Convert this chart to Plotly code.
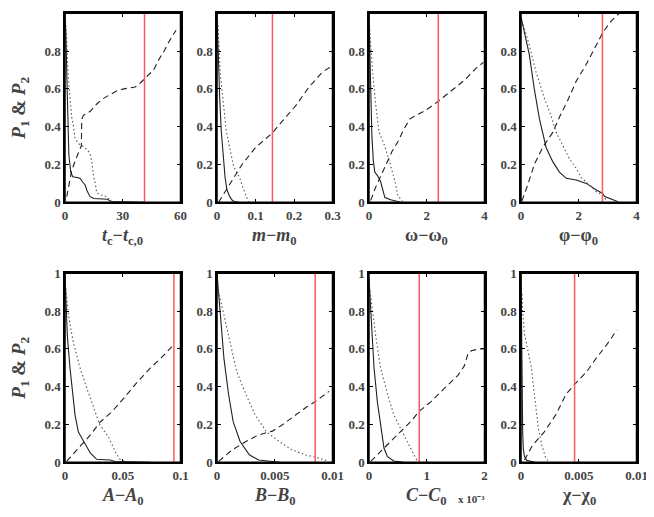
import plotly.graph_objects as go

# ---------------- data ----------------
tc_solid_x = [0, 0.5, 1, 1.5, 2, 3, 4, 7, 8, 9, 10.5, 11.5, 13, 15, 22, 24, 41]
tc_solid_y = [1, 0.88, 0.65, 0.4, 0.25, 0.16, 0.135, 0.13, 0.125, 0.11, 0.09, 0.06, 0.03, 0.02, 0.016, 0.004, 0.0]
tc_dot_x = [0, 0.9, 1.7, 2.6, 3.5, 4.3, 5.2, 7, 9, 11.3, 13, 14, 14.8, 15.7, 16.5, 18.4, 21.7, 23.5, 25]
tc_dot_y = [1, 0.86, 0.66, 0.55, 0.45, 0.41, 0.34, 0.31, 0.3, 0.28, 0.26, 0.21, 0.14, 0.1, 0.05, 0.04, 0.03, 0.01, 0.0]
tc_dash_x = [0.9, 3.5, 6.5, 8.5, 8.7, 9.6, 13, 16.5, 20, 23.5, 27, 30.5, 36.5, 39, 41, 44, 46, 49, 51.5, 54, 57.7]
tc_dash_y = [0.03, 0.17, 0.25, 0.3, 0.44, 0.46, 0.48, 0.52, 0.55, 0.57, 0.59, 0.6, 0.61, 0.63, 0.65, 0.68, 0.7, 0.76, 0.8, 0.85, 0.91]
tc_red = 41.3

m_solid_x = [0, 0.002, 0.004, 0.007, 0.011, 0.017, 0.021, 0.026, 0.033, 0.039, 0.045, 0.057]
m_solid_y = [1, 0.85, 0.7, 0.55, 0.38, 0.22, 0.13, 0.065, 0.03, 0.012, 0.004, 0]
m_dot_x = [0, 0.003, 0.009, 0.017, 0.024, 0.03, 0.042, 0.048, 0.059, 0.065, 0.073, 0.082]
m_dot_y = [1, 0.92, 0.67, 0.5, 0.38, 0.32, 0.2, 0.17, 0.13, 0.09, 0.05, 0.0]
m_dash_x = [0.004, 0.026, 0.065, 0.1, 0.143, 0.174, 0.204, 0.239, 0.274, 0.298]
m_dash_y = [0.0, 0.074, 0.2, 0.29, 0.365, 0.44, 0.51, 0.61, 0.69, 0.72]
m_red = 0.144

w_solid_x = [0, 0.03, 0.06, 0.1, 0.15, 0.2, 0.3, 0.4, 0.5, 0.55, 0.75, 0.95, 1.1]
w_solid_y = [1, 0.85, 0.6, 0.35, 0.22, 0.16, 0.14, 0.11, 0.05, 0.025, 0.013, 0.004, 0]
w_dot_x = [0, 0.03, 0.12, 0.23, 0.35, 0.54, 0.7, 0.8, 0.9, 1.0, 1.16]
w_dot_y = [1, 0.9, 0.7, 0.52, 0.37, 0.3, 0.22, 0.17, 0.11, 0.035, 0.005]
w_dash_x = [0.06, 0.23, 0.5, 0.8, 1.0, 1.22, 1.41, 1.57, 1.95, 2.4, 2.85, 3.3, 3.71, 3.96]
w_dash_y = [0.01, 0.08, 0.17, 0.27, 0.32, 0.39, 0.44, 0.455, 0.485, 0.535, 0.59, 0.645, 0.71, 0.74]
w_red = 2.4

p_solid_x = [0, 0.29, 0.46, 0.64, 0.87, 1.1, 1.33, 1.57, 1.91, 2.26, 2.61, 2.82, 2.9, 3.19, 3.36]
p_solid_y = [0.98, 0.78, 0.6, 0.44, 0.29, 0.215, 0.16, 0.127, 0.118, 0.1, 0.065, 0.048, 0.03, 0.012, 0.003]
p_dot_x = [0, 0.29, 0.52, 0.81, 0.99, 1.22, 1.45, 1.68, 1.91, 2.09, 2.38, 2.61, 2.82, 2.96]
p_dot_y = [0.98, 0.83, 0.69, 0.55, 0.48, 0.37, 0.3, 0.23, 0.18, 0.13, 0.09, 0.056, 0.04, 0.01]
p_dash_x = [0.03, 0.23, 0.46, 0.75, 1.1, 1.33, 1.62, 1.91, 2.26, 2.61, 2.84, 3.13, 3.4]
p_dash_y = [0.007, 0.09, 0.2, 0.29, 0.37, 0.45, 0.54, 0.64, 0.73, 0.83, 0.9, 0.96, 1.0]
p_red = 2.82

a_solid_x = [0, 0.001, 0.002, 0.0043, 0.0067, 0.0087, 0.0116, 0.016, 0.022, 0.0275, 0.039, 0.0435, 0.074]
a_solid_y = [1, 0.85, 0.67, 0.5, 0.36, 0.25, 0.16, 0.11, 0.048, 0.016, 0.012, 0.004, 0]
a_dot_x = [0, 0.003, 0.007, 0.013, 0.019, 0.025, 0.03, 0.038, 0.0435, 0.048, 0.054]
a_dot_y = [0.96, 0.78, 0.64, 0.5, 0.39, 0.29, 0.2, 0.13, 0.056, 0.012, 0.002]
a_dash_x = [0.0014, 0.01, 0.022, 0.03, 0.041, 0.051, 0.062, 0.074, 0.083, 0.093]
a_dash_y = [0.005, 0.065, 0.145, 0.21, 0.27, 0.34, 0.42, 0.5, 0.55, 0.615]
a_red = 0.0943

b_solid_x = [0, 0.0003, 0.0006, 0.001, 0.0014, 0.002, 0.0028, 0.0036, 0.0048, 0.0054]
b_solid_y = [1, 0.76, 0.55, 0.36, 0.215, 0.11, 0.04, 0.012, 0.003, 0]
b_dot_x = [0, 0.00014, 0.0006, 0.0012, 0.0017, 0.0025, 0.0033, 0.0043, 0.0054, 0.0065, 0.0077, 0.0086, 0.0096]
b_dot_y = [0.97, 0.9, 0.78, 0.62, 0.48, 0.36, 0.25, 0.16, 0.11, 0.065, 0.039, 0.026, 0.007]
b_dash_x = [0.00014, 0.0013, 0.0025, 0.0036, 0.0048, 0.0057, 0.0068, 0.0077, 0.0086, 0.0097]
b_dash_y = [0.005, 0.065, 0.11, 0.145, 0.165, 0.2, 0.25, 0.29, 0.325, 0.375]
b_red = 0.0085

# C values in units of 1e-3
c_solid_x = [0, 0.03, 0.087, 0.145, 0.2, 0.26, 0.32, 0.43, 0.6]
c_solid_y = [0.97, 0.78, 0.5, 0.32, 0.2, 0.074, 0.03, 0.007, 0]
c_dot_x = [0, 0.058, 0.116, 0.2, 0.32, 0.43, 0.55, 0.67, 0.78, 0.84]
c_dot_y = [0.95, 0.81, 0.67, 0.5, 0.36, 0.25, 0.18, 0.11, 0.04, 0.003]
c_dash_x = [0.03, 0.2, 0.43, 0.72, 0.87, 1.07, 1.3, 1.54, 1.65, 1.71, 1.77, 1.91, 2.0]
c_dash_y = [0.005, 0.056, 0.127, 0.215, 0.27, 0.32, 0.39, 0.46, 0.51, 0.57, 0.59, 0.6, 0.6]
c_red = 0.87

x_solid_x = [0, 0.00003, 0.00006, 0.0001, 0.00015, 0.0002, 0.0003, 0.0005, 0.0012]
x_solid_y = [1, 0.7, 0.45, 0.3, 0.15, 0.07, 0.03, 0.01, 0]
x_dot_x = [0.0001, 0.00014, 0.0003, 0.0006, 0.0009, 0.0011, 0.0013, 0.0015, 0.0018, 0.0021, 0.0023]
x_dot_y = [0.89, 0.8, 0.68, 0.58, 0.5, 0.39, 0.27, 0.18, 0.09, 0.03, 0.01]
x_dash_x = [0.0003, 0.001, 0.002, 0.003, 0.0039, 0.0046, 0.0057, 0.0065, 0.0074, 0.0083]
x_dash_y = [0.012, 0.09, 0.16, 0.25, 0.36, 0.41, 0.48, 0.55, 0.62, 0.7]
x_red = 0.00464

x_ranges = [60, 0.3, 4, 4, 0.1, 0.01, 2, 0.01]
x_tickvals = [[0, 30, 60], [0, 0.1, 0.2, 0.3], [0, 2, 4], [0, 2, 4],
              [0, 0.05, 0.1], [0, 0.005, 0.01], [0, 1, 2], [0, 0.005, 0.01]]
x_ticktext = [["0", "30", "60"], ["0", "0.1", "0.2", "0.3"], ["0", "2", "4"], ["0", "2", "4"],
              ["0", "0.05", "0.1"], ["0", "0.005", "0.01"], ["0", "1", "2"], ["0", "0.005", "0.01"]]
y_tickvals = [0, 0.2, 0.4, 0.6, 0.8, 1]
y_ticktext = ["0", "0.2", "0.4", "0.6", "0.8", "1"]
x_titles = [
    "<b><i>t</i><sub>c</sub>−<i>t</i><sub>c,0</sub></b>",
    "<b><i>m</i>−<i>m</i><sub>0</sub></b>",
    "<b>ω−ω<sub>0</sub></b>",
    "<b>φ−φ<sub>0</sub></b>",
    "<b><i>A</i>−<i>A</i><sub>0</sub></b>",
    "<b><i>B</i>−<i>B</i><sub>0</sub></b>",
    "<b><i>C</i>−<i>C</i><sub>0</sub></b>",
    "<b>χ−χ<sub>0</sub></b>",
]
y_title = "<b><i>P</i><sub>1</sub> & <i>P</i><sub>2</sub></b>"
c_exponent = "<b>x 10⁻³</b>"

panels = [
    (tc_solid_x, tc_solid_y, tc_dot_x, tc_dot_y, tc_dash_x, tc_dash_y, tc_red),
    (m_solid_x, m_solid_y, m_dot_x, m_dot_y, m_dash_x, m_dash_y, m_red),
    (w_solid_x, w_solid_y, w_dot_x, w_dot_y, w_dash_x, w_dash_y, w_red),
    (p_solid_x, p_solid_y, p_dot_x, p_dot_y, p_dash_x, p_dash_y, p_red),
    (a_solid_x, a_solid_y, a_dot_x, a_dot_y, a_dash_x, a_dash_y, a_red),
    (b_solid_x, b_solid_y, b_dot_x, b_dot_y, b_dash_x, b_dash_y, b_red),
    (c_solid_x, c_solid_y, c_dot_x, c_dot_y, c_dash_x, c_dash_y, c_red),
    (x_solid_x, x_solid_y, x_dot_x, x_dot_y, x_dash_x, x_dash_y, x_red),
]

# ---------------- layout geometry ----------------
# the page body has an 8px margin, so the figure is shifted by OFF
OFF = 8
W, H = 654 - OFF, 517 - OFF
col_left = [65 - OFF, 217 - OFF, 369 - OFF, 521 - OFF]
col_w = 115.5
row_top = [13.3 - OFF, 273.3 - OFF]
row_h = 189

FONT = "Times New Roman"
fig = go.Figure()
layout = dict(template="none", width=W, height=H, autosize=False,
              margin=dict(l=0, r=0, t=0, b=0, pad=0, autoexpand=False),
              showlegend=False)
annotations = []
shapes = []


def bold(lst):
    return ["<b>" + s + "</b>" for s in lst]


for i, (sx, sy, dx, dy, ex, ey, red) in enumerate(panels):
    r, c = divmod(i, 4)
    n = i + 1
    xa = "xaxis" if n == 1 else f"xaxis{n}"
    ya = "yaxis" if n == 1 else f"yaxis{n}"
    xr = "x" if n == 1 else f"x{n}"
    yr = "y" if n == 1 else f"y{n}"
    x0 = col_left[c] / W
    x1 = (col_left[c] + col_w) / W
    y1 = 1 - row_top[r] / H
    y0 = 1 - (row_top[r] + row_h) / H
    common = dict(showline=True, linecolor="black", linewidth=1.5, mirror="ticks",
                  ticks="inside", ticklen=4, tickcolor="black",
                  showgrid=False, automargin=False,
                  tickfont=dict(family=FONT, size=13))
    layout[xa] = dict(domain=[x0, x1], range=[0, x_ranges[i]], anchor=yr,
                      tickvals=x_tickvals[i], ticktext=bold(x_ticktext[i]), **common)
    yax = dict(domain=[y0, y1], range=[0, 1], anchor=xr,
               tickvals=y_tickvals, ticktext=bold(y_ticktext), **common)
    if c == 0:
        yax["title"] = dict(text=y_title, font=dict(family=FONT, size=19))
    layout[ya] = yax

    # panel frame as a shape in axis-domain coordinates
    shapes.append(dict(type="rect", xref=f"{xr} domain", yref=f"{yr} domain",
                       x0=0, x1=1, y0=0, y1=1, layer="above",
                       line=dict(color="black", width=1.5)))

    fig.add_trace(go.Scatter(x=sx, y=sy, mode="lines", xaxis=xr, yaxis=yr,
                             line=dict(color="#202020", width=1.1)))
    fig.add_trace(go.Scatter(x=dx, y=dy, mode="lines", xaxis=xr, yaxis=yr,
                             line=dict(color="#555555", width=1.1, dash="1.5px,2.5px")))
    fig.add_trace(go.Scatter(x=ex, y=ey, mode="lines", xaxis=xr, yaxis=yr,
                             line=dict(color="#202020", width=1.1, dash="6px,4px")))
    fig.add_trace(go.Scatter(x=[red, red], y=[0, 1], mode="lines", xaxis=xr, yaxis=yr,
                             line=dict(color="#ff5a5a", width=1.5)))

    annotations.append(dict(text=x_titles[i], xref="paper", yref="paper",
                            x=(x0 + x1) / 2, y=1 - (row_top[r] + row_h + 21) / H,
                            xanchor="center", yanchor="top", showarrow=False,
                            font=dict(family=FONT, size=18)))

annotations.append(dict(text=c_exponent, xref="paper", yref="paper",
                        x=(col_left[2] + col_w + 2) / W, y=1 - (row_top[1] + row_h + 29) / H,
                        xanchor="right", yanchor="top", showarrow=False,
                        font=dict(family=FONT, size=11)))

layout["annotations"] = annotations
layout["shapes"] = shapes
fig.update_layout(**layout)
fig.write_html("out.html")
